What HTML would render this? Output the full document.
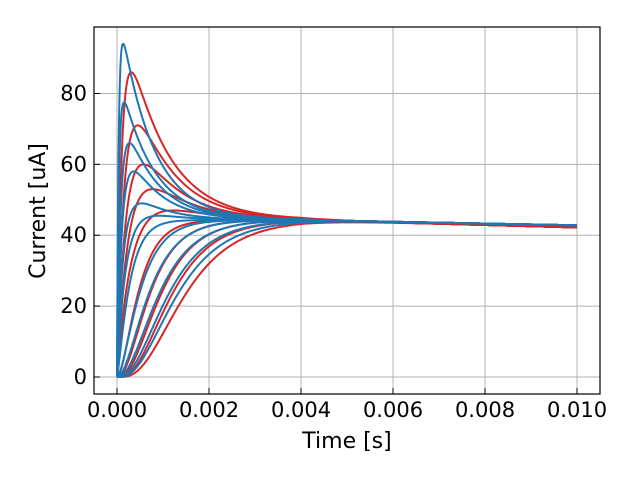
<!DOCTYPE html>
<html><head><meta charset="utf-8"><style>
body{margin:0;background:#fff}
svg text{font-family:"DejaVu Sans","Liberation Sans",sans-serif;fill:#000}
</style></head><body>
<svg id="s" width="640" height="480" xmlns="http://www.w3.org/2000/svg">
<rect width="640" height="480" fill="#fff"/>
<g id="grid" stroke="#b0b0b0" stroke-width="1"></g>
<g id="curves" fill="none" stroke-width="2" stroke-linejoin="round"></g>
<rect x="94" y="27" width="506" height="367" fill="none" stroke="#000" stroke-width="1.2"/>
<g id="ticks" stroke="#000" stroke-width="1"></g>
<g id="labels" font-size="21"></g>
<text x="347" y="448" font-size="22" text-anchor="middle">Time [s]</text>
<text transform="translate(45,211) rotate(-90)" font-size="22" text-anchor="middle">Current [uA]</text>
</svg>
<script>
const NS="http://www.w3.org/2000/svg";
const X=t=>117+t*46000, Y=v=>377-v*3.544;
function el(p,tag,a,txt){const e=document.createElementNS(NS,tag);for(const k in a)e.setAttribute(k,a[k]);if(txt!=null)e.textContent=txt;document.getElementById(p).appendChild(e);}
for(let i=0;i<=5;i++){const t=i*0.002,x=X(t);
 el("grid","line",{x1:x,x2:x,y1:27,y2:394});
 el("ticks","line",{x1:x,x2:x,y1:394,y2:388});
 el("labels","text",{x:x,y:417,"text-anchor":"middle"},t.toFixed(3));}
for(let v=0;v<=80;v+=20){const y=Y(v);
 el("grid","line",{x1:94,x2:600,y1:y,y2:y});
 el("ticks","line",{x1:94,x2:100,y1:y,y2:y});
 el("labels","text",{x:87,y:y+7,"text-anchor":"end"},v);}
const ss=(t,e)=>44.3-(Math.max(0,t-0.004)/0.006)*(44.3-e);
function peakCurve(P,tp,end,rf,td){
 const tr=tp/rf;
 const f=(K,t)=>(1-Math.exp(-t/tr))*(ss(t,end)+K*Math.exp(-t/td));
 let lo=0,hi=300;
 for(let it=0;it<40;it++){const K=(lo+hi)/2;let m=0;for(let t=0;t<0.003;t+=0.000005)m=Math.max(m,f(K,t));if(m>P)hi=K;else lo=K;}
 const K=lo;return t=>f(K,t);}
function sigCurve(tau,n,end){return t=>ss(t,end)*Math.pow(1-Math.exp(-t/tau),n);}
function draw(fn,col){let d="";
 const ts=[];for(let t=0;t<=0.01;t+=(t<0.003?0.000005:0.00005))ts.push(t);ts.push(0.01);
 ts.forEach((t,i)=>{d+=(i?"L":"M")+X(t).toFixed(2)+","+Y(fn(t)).toFixed(2);});
 el("curves","path",{d:d,stroke:col});}
const R="#d62728",B="#1f77b4";
[[86,0.00025],[71,0.0004],[60,0.0005],[53,0.00065],[47,0.00085]].forEach(p=>draw(peakCurve(p[0],p[1],42.2,2.2,0.00085),R));
[[0.00035,2],[0.00048,2.5],[0.00058,3],[0.00068,3.4],[0.0008,3.8]].forEach(p=>draw(sigCurve(p[0],p[1],42.2),R));
[[94,0.00013],[77.5,0.00015],[66,0.0003],[58,0.0004],[49,0.0005],[45.5,0.0007]].forEach(p=>draw(peakCurve(p[0],p[1],42.8,3.5,0.0007),B));
[[0.00025,1.3],[0.0004,1.8],[0.0005,2.2],[0.0006,2.6],[0.00068,3],[0.00076,3.3]].forEach(p=>draw(sigCurve(p[0],p[1],42.8),B));
</script>
</body></html>
